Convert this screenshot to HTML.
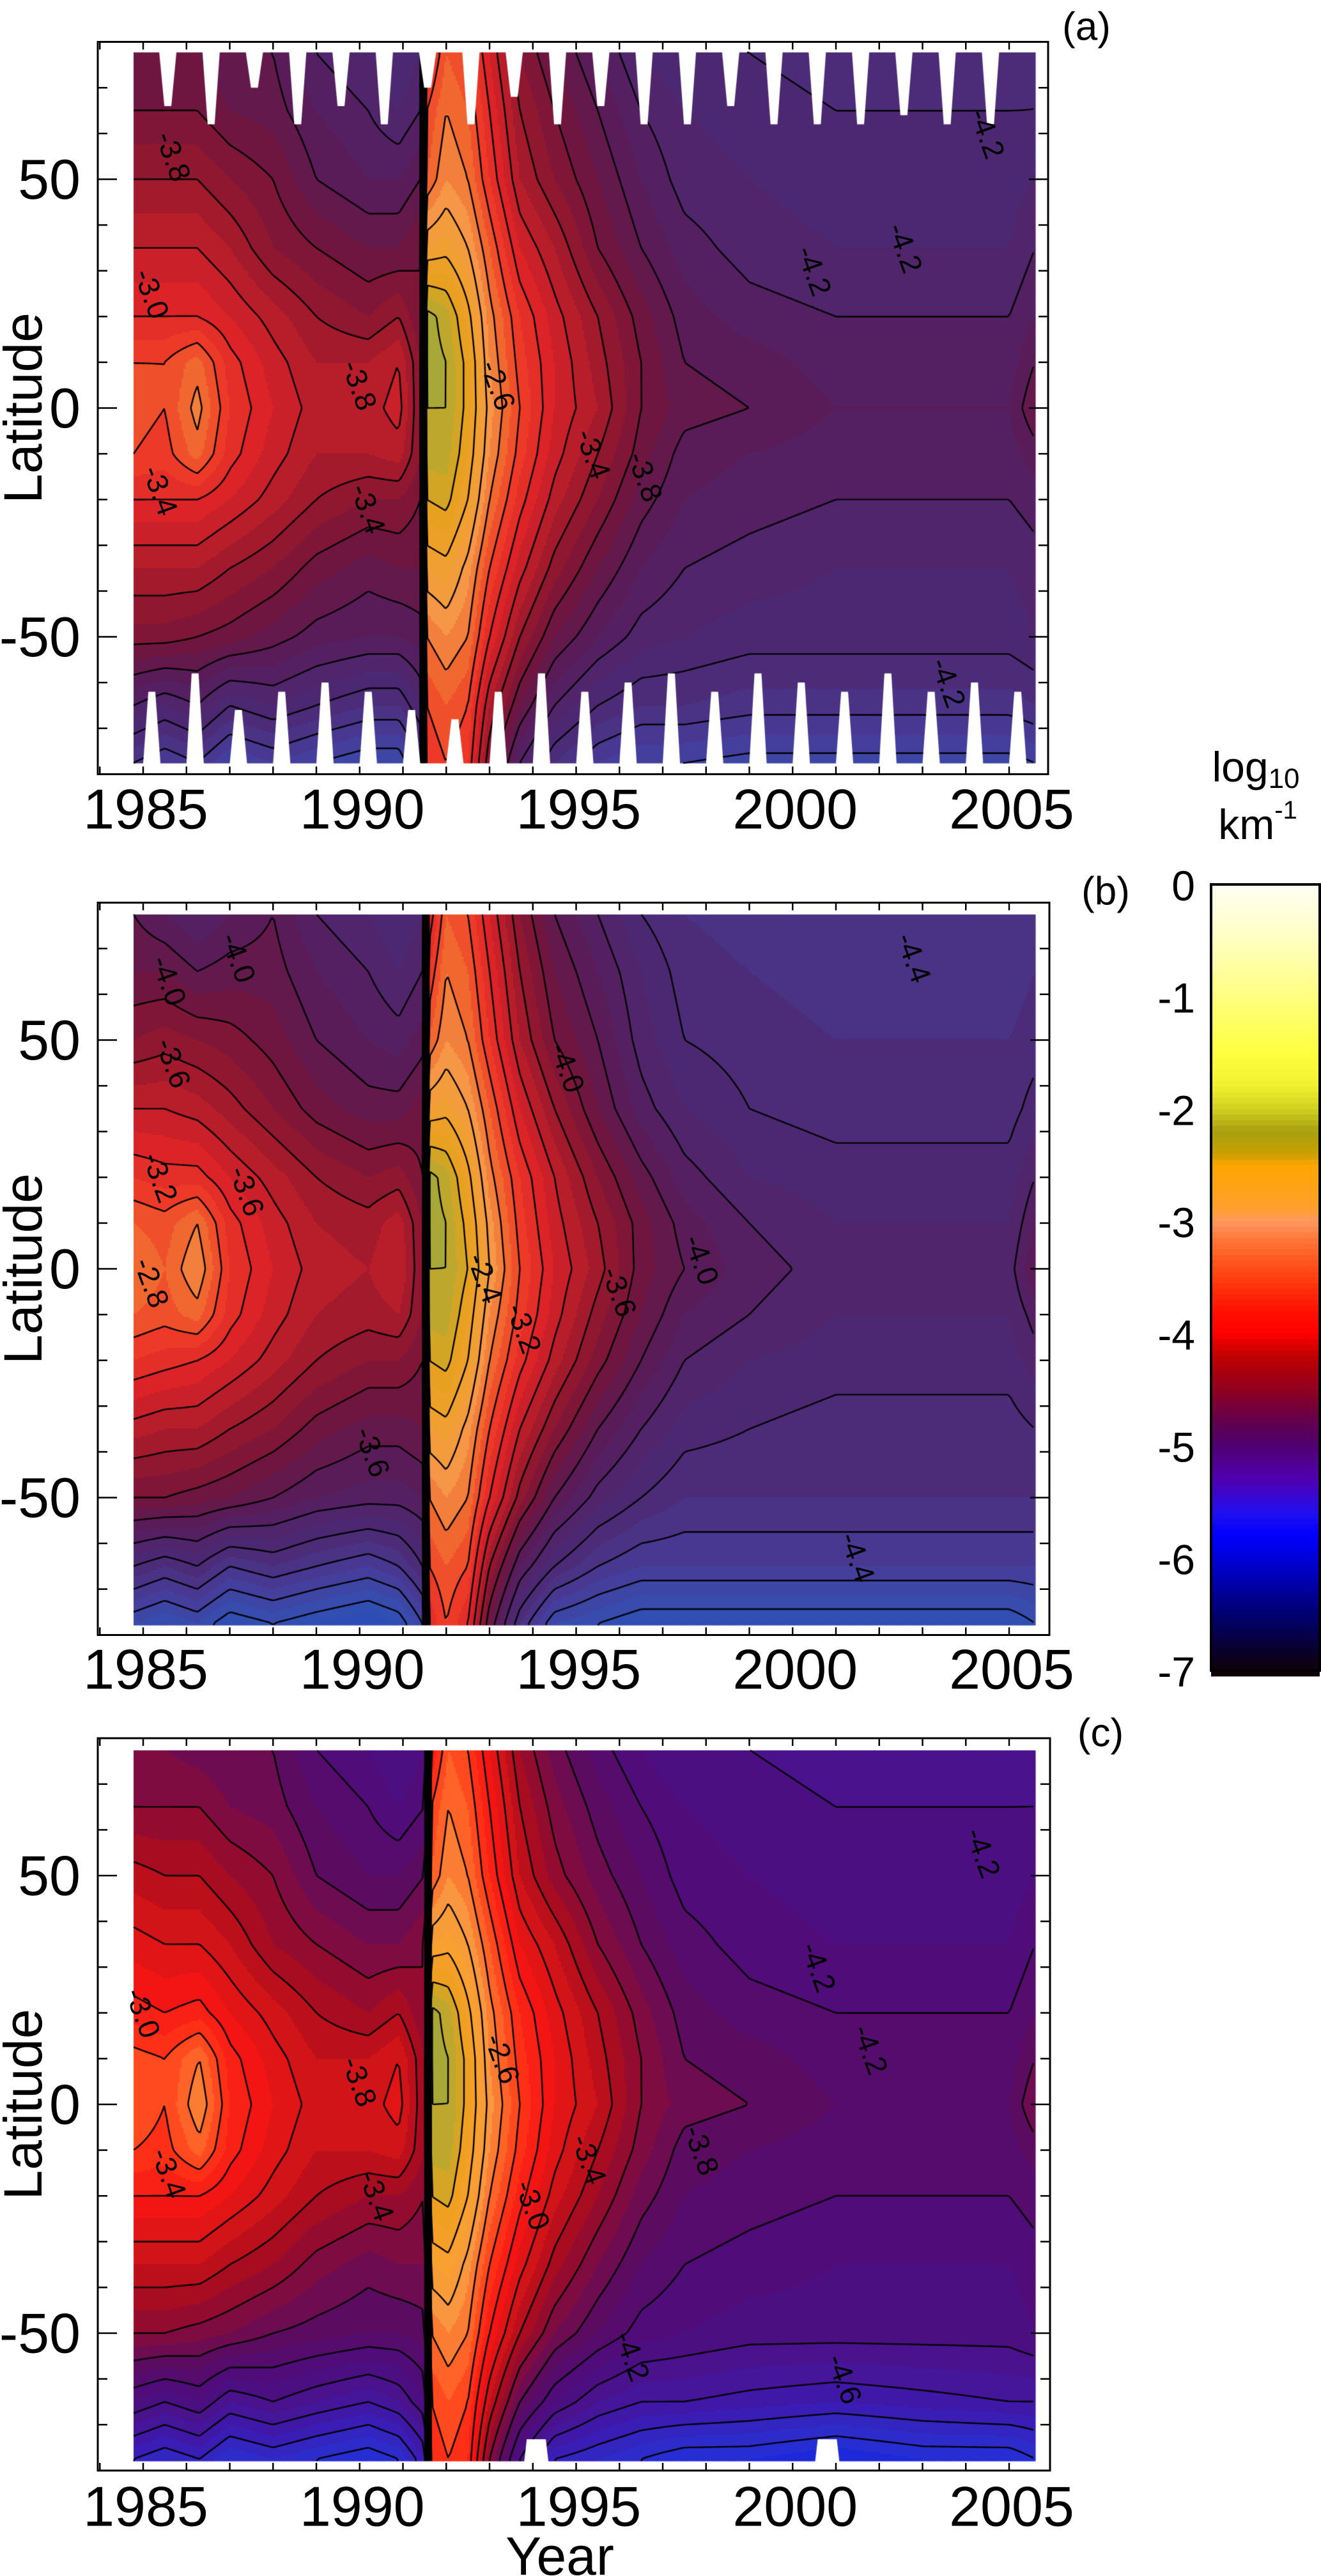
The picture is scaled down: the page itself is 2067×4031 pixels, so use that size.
<!DOCTYPE html>
<html><head><meta charset="utf-8">
<style>
html,body{margin:0;padding:0;background:#fff;}
#wrap{position:relative;width:2067px;height:4031px;overflow:hidden;background:#fff;}
canvas,svg{position:absolute;left:0;top:0;}
text{font-family:"Liberation Sans",sans-serif;fill:#000;}
</style></head>
<body>
<div id="wrap">
<canvas id="cv" width="2067" height="4031"></canvas>
<svg id="sv" width="2067" height="4031"></svg>
</div>
<script>
// ---------------- DATA ----------------
const lats = [77.5, 65, 50, 35, 20, 10, 0, -10, -20, -35, -50, -65, -77.5];
const yearsA = [1984.78,1985.5,1986.25,1987,1988,1989,1990.2,1990.9,1991.4,1991.55,1992.0,1992.5,1993,1993.7,1994.5,1995.5,1996.5,1997.5,1999,2001,2003,2005,2005.6];
const yearsB = [1984.78,1985.5,1986.25,1987,1988,1989,1990.2,1990.9,1991.45,1991.6,1992.0,1992.5,1993,1993.7,1994.5,1995.5,1996.5,1997.5,1999,2001,2003,2005,2005.6];
const yearsC = [1984.78,1985.5,1986.3,1987,1988,1989,1990.2,1990.9,1991.5,1991.65,1992.05,1992.5,1993,1993.7,1994.5,1995.5,1996.5,1997.5,1999,2001,2003,2005,2005.6];
const valuesA = [
[-3.9,-3.9,-3.9,-4.0,-4.0,-4.2,-4.3,-4.4,-4.3,-3.2,-2.9,-3.0,-3.3,-3.7,-3.9,-4.1,-4.3,-4.4,-4.4,-4.45,-4.45,-4.45,-4.4],
[-3.8,-3.8,-3.8,-3.9,-3.95,-4.1,-4.2,-4.3,-4.2,-3.0,-2.8,-2.9,-3.2,-3.6,-3.8,-4.0,-4.2,-4.3,-4.35,-4.4,-4.4,-4.4,-4.4],
[-3.6,-3.6,-3.6,-3.7,-3.8,-4.0,-4.1,-4.1,-4.0,-2.9,-2.7,-2.8,-3.1,-3.5,-3.7,-3.9,-4.1,-4.25,-4.3,-4.35,-4.35,-4.35,-4.3],
[-3.4,-3.4,-3.4,-3.5,-3.7,-3.8,-3.9,-3.9,-3.8,-2.5,-2.45,-2.6,-2.9,-3.3,-3.5,-3.8,-4.0,-4.15,-4.25,-4.3,-4.3,-4.3,-4.2],
[-3.2,-3.2,-3.2,-3.3,-3.45,-3.6,-3.7,-3.6,-3.8,-1.95,-2.05,-2.35,-2.75,-3.1,-3.35,-3.6,-3.85,-4.05,-4.15,-4.2,-4.2,-4.2,-4.1],
[-3.0,-3.0,-2.85,-3.15,-3.35,-3.5,-3.5,-3.4,-3.7,-1.95,-2.0,-2.25,-2.7,-3.05,-3.3,-3.55,-3.8,-4.0,-4.05,-4.15,-4.15,-4.15,-4.0],
[-2.95,-3.0,-2.75,-3.1,-3.3,-3.45,-3.45,-3.35,-3.7,-2.0,-2.0,-2.25,-2.65,-3.0,-3.3,-3.5,-3.8,-3.95,-4.0,-4.1,-4.1,-4.1,-3.9],
[-3.0,-3.05,-2.85,-3.15,-3.35,-3.5,-3.5,-3.45,-3.7,-2.05,-2.05,-2.3,-2.7,-3.05,-3.35,-3.6,-3.85,-4.05,-4.1,-4.15,-4.15,-4.15,-4.05],
[-3.2,-3.2,-3.2,-3.3,-3.45,-3.6,-3.7,-3.7,-3.8,-2.2,-2.15,-2.4,-2.8,-3.15,-3.45,-3.7,-3.95,-4.1,-4.15,-4.2,-4.2,-4.2,-4.15],
[-3.5,-3.5,-3.5,-3.6,-3.7,-3.85,-3.95,-3.9,-3.9,-2.5,-2.45,-2.65,-3.0,-3.35,-3.65,-3.9,-4.1,-4.2,-4.25,-4.3,-4.3,-4.3,-4.25],
[-3.75,-3.75,-3.8,-3.85,-3.95,-4.05,-4.1,-4.1,-4.05,-2.8,-2.7,-2.8,-3.2,-3.6,-3.9,-4.1,-4.25,-4.3,-4.35,-4.35,-4.35,-4.35,-4.3],
[-4.2,-4.3,-4.2,-4.4,-4.3,-4.4,-4.5,-4.5,-4.3,-3.0,-2.9,-3.0,-3.5,-3.9,-4.2,-4.4,-4.5,-4.5,-4.55,-4.55,-4.55,-4.55,-4.5],
[-4.6,-4.7,-4.6,-4.8,-4.7,-4.8,-4.9,-4.9,-4.6,-3.1,-3.0,-3.1,-3.7,-4.2,-4.5,-4.7,-4.8,-4.8,-4.85,-4.85,-4.85,-4.85,-4.8]];
const valuesB = [
[-4.0,-4.1,-4.2,-4.1,-4.0,-4.2,-4.3,-4.4,-4.3,-3.3,-2.9,-3.0,-3.3,-3.7,-4.0,-4.2,-4.4,-4.5,-4.55,-4.6,-4.6,-4.6,-4.55],
[-3.9,-3.9,-4.0,-3.95,-3.95,-4.1,-4.2,-4.3,-4.2,-3.1,-2.8,-2.9,-3.2,-3.6,-3.9,-4.1,-4.3,-4.45,-4.5,-4.55,-4.55,-4.55,-4.5],
[-3.7,-3.65,-3.7,-3.75,-3.85,-4.0,-4.1,-4.15,-4.05,-2.9,-2.7,-2.8,-3.1,-3.5,-3.8,-4.0,-4.25,-4.4,-4.45,-4.5,-4.5,-4.5,-4.45],
[-3.4,-3.4,-3.45,-3.55,-3.7,-3.85,-3.95,-3.95,-3.85,-2.5,-2.45,-2.6,-2.9,-3.3,-3.6,-3.9,-4.15,-4.3,-4.4,-4.45,-4.45,-4.45,-4.35],
[-3.1,-3.15,-3.15,-3.3,-3.45,-3.6,-3.7,-3.65,-3.8,-1.95,-2.05,-2.35,-2.75,-3.1,-3.4,-3.7,-3.95,-4.15,-4.3,-4.35,-4.35,-4.35,-4.2],
[-2.9,-2.95,-2.8,-3.15,-3.35,-3.5,-3.55,-3.45,-3.7,-1.95,-2.0,-2.25,-2.65,-3.05,-3.35,-3.6,-3.85,-4.05,-4.2,-4.3,-4.3,-4.3,-4.1],
[-2.8,-2.9,-2.7,-3.1,-3.3,-3.45,-3.5,-3.4,-3.7,-2.0,-2.0,-2.2,-2.6,-3.0,-3.3,-3.55,-3.85,-4.0,-4.15,-4.25,-4.25,-4.25,-4.0],
[-2.9,-2.95,-2.85,-3.15,-3.35,-3.5,-3.55,-3.5,-3.7,-2.05,-2.05,-2.3,-2.7,-3.05,-3.35,-3.65,-3.9,-4.1,-4.2,-4.3,-4.3,-4.3,-4.15],
[-3.1,-3.15,-3.2,-3.3,-3.45,-3.6,-3.7,-3.7,-3.8,-2.2,-2.15,-2.4,-2.8,-3.15,-3.45,-3.75,-4.0,-4.2,-4.3,-4.35,-4.35,-4.35,-4.25],
[-3.45,-3.5,-3.5,-3.6,-3.7,-3.85,-3.95,-3.95,-3.9,-2.5,-2.45,-2.65,-3.0,-3.4,-3.7,-4.0,-4.2,-4.35,-4.4,-4.45,-4.45,-4.45,-4.4],
[-3.8,-3.8,-3.85,-3.9,-4.0,-4.1,-4.15,-4.15,-4.1,-2.8,-2.7,-2.8,-3.2,-3.65,-4.0,-4.25,-4.4,-4.5,-4.5,-4.5,-4.5,-4.5,-4.5],
[-4.4,-4.5,-4.4,-4.6,-4.5,-4.6,-4.7,-4.6,-4.4,-3.0,-2.9,-3.0,-3.6,-4.1,-4.4,-4.6,-4.7,-4.7,-4.7,-4.7,-4.7,-4.7,-4.7],
[-4.9,-5.0,-4.9,-5.1,-5.0,-5.1,-5.2,-5.1,-4.8,-3.2,-3.0,-3.2,-3.9,-4.5,-4.9,-5.0,-5.1,-5.1,-5.1,-5.1,-5.1,-5.1,-5.0]];
const valuesC = [
[-3.9,-3.9,-3.95,-4.0,-4.0,-4.2,-4.3,-4.4,-4.3,-3.2,-2.9,-3.0,-3.3,-3.7,-3.95,-4.15,-4.3,-4.4,-4.4,-4.45,-4.45,-4.45,-4.4],
[-3.8,-3.8,-3.8,-3.9,-3.95,-4.1,-4.2,-4.3,-4.2,-3.0,-2.8,-2.9,-3.2,-3.6,-3.85,-4.05,-4.2,-4.3,-4.35,-4.4,-4.4,-4.4,-4.4],
[-3.55,-3.6,-3.6,-3.7,-3.8,-4.0,-4.1,-4.1,-4.0,-2.9,-2.7,-2.8,-3.1,-3.5,-3.75,-3.95,-4.1,-4.25,-4.3,-4.35,-4.35,-4.35,-4.3],
[-3.35,-3.4,-3.4,-3.5,-3.7,-3.8,-3.9,-3.9,-3.8,-2.5,-2.45,-2.6,-2.9,-3.3,-3.5,-3.8,-4.0,-4.15,-4.25,-4.3,-4.3,-4.3,-4.2],
[-3.15,-3.2,-3.15,-3.3,-3.45,-3.6,-3.7,-3.6,-3.8,-1.95,-2.05,-2.35,-2.75,-3.1,-3.35,-3.6,-3.85,-4.05,-4.15,-4.2,-4.2,-4.2,-4.1],
[-2.95,-3.0,-2.8,-3.15,-3.35,-3.5,-3.5,-3.4,-3.7,-1.95,-2.0,-2.25,-2.7,-3.05,-3.3,-3.55,-3.8,-4.0,-4.05,-4.15,-4.15,-4.15,-4.0],
[-2.9,-3.0,-2.7,-3.1,-3.3,-3.45,-3.45,-3.35,-3.7,-2.0,-2.0,-2.25,-2.65,-3.0,-3.3,-3.5,-3.8,-3.95,-4.0,-4.1,-4.1,-4.1,-3.9],
[-3.0,-3.05,-2.85,-3.15,-3.35,-3.5,-3.5,-3.45,-3.7,-2.05,-2.05,-2.3,-2.7,-3.05,-3.35,-3.6,-3.85,-4.05,-4.1,-4.15,-4.15,-4.15,-4.05],
[-3.2,-3.2,-3.2,-3.3,-3.45,-3.6,-3.7,-3.7,-3.8,-2.2,-2.15,-2.4,-2.8,-3.15,-3.45,-3.7,-3.95,-4.1,-4.15,-4.2,-4.2,-4.2,-4.15],
[-3.5,-3.5,-3.5,-3.6,-3.7,-3.85,-3.95,-3.9,-3.9,-2.5,-2.45,-2.65,-3.0,-3.35,-3.65,-3.9,-4.1,-4.2,-4.25,-4.3,-4.3,-4.3,-4.25],
[-3.8,-3.8,-3.85,-3.9,-4.0,-4.05,-4.1,-4.1,-4.05,-2.8,-2.7,-2.8,-3.2,-3.6,-3.9,-4.1,-4.25,-4.3,-4.35,-4.35,-4.35,-4.35,-4.3],
[-4.3,-4.4,-4.3,-4.5,-4.4,-4.5,-4.6,-4.5,-4.3,-3.0,-2.9,-3.0,-3.5,-4.0,-4.3,-4.5,-4.6,-4.6,-4.65,-4.7,-4.65,-4.6,-4.6],
[-4.8,-4.9,-4.8,-5.0,-4.9,-5.0,-5.1,-5.0,-4.7,-3.1,-3.0,-3.1,-3.8,-4.4,-4.8,-4.9,-5.0,-5.1,-5.1,-5.2,-5.1,-5.1,-5.0]];
// missing-data gaps (year centres, lat reached)
const gapTopYearsA = [1985.57,1986.57,1987.57,1988.57,1989.57,1990.57,1991.57,1992.57,1993.57,1994.57,1995.57,1996.57,1997.57,1998.57,1999.57,2000.57,2001.57,2002.57,2003.57,2004.57];
const gapTopLatA = [66,62,70,62,66,62,70,62,68,62,66,62,62,66,62,62,62,64,62,62];
const gapBotYearsA = [1985.2,1986.2,1987.2,1988.2,1989.2,1990.2,1991.2,1992.2,1993.2,1994.2,1995.2,1996.2,1997.2,1998.2,1999.2,2000.2,2001.2,2002.2,2003.2,2004.2,2005.2];
const gapBotLatA = [-62,-58,-66,-62,-60,-62,-66,-68,-62,-58,-62,-60,-58,-62,-58,-60,-62,-58,-62,-60,-62];
const gapBotYearsC = [1994.08,2000.8];
const gapBotLatC = [-73.2,-73.2];
const cbarValues = [0,-0.5,-1,-1.5,-1.8,-2.0,-2.2,-2.4,-2.5,-2.9,-3.0,-3.2,-3.5,-3.8,-4.0,-4.2,-4.5,-4.8,-5.0,-5.3,-5.6,-5.8,-6.2,-6.5,-7];
const cbarColors = ["#fffff4","#ffffc0","#ffff80","#ffff40","#f0f030","#d0d020","#a8a010","#c8a000","#ffa500","#ffa030","#ff9860","#ff7030","#ff4010","#ff1000","#ff0000","#c00000","#900020","#600050","#500070","#5000b0","#2010f0","#0000ff","#0000b0","#000070","#100008"];
const cbarTicks = [0,-1,-2,-3,-4,-5,-6,-7];
const yearTicks = [1985,1990,1995,2000,2005];
const latTicks = [50,0,-50];
const contourLevels = [-5.4,-5.2,-5.0,-4.8,-4.6,-4.4,-4.2,-4.0,-3.8,-3.6,-3.4,-3.2,-3.0,-2.8,-2.6,-2.4,-2.2,-2.0,-1.8];
// panel palettes (value -> displayed colour)
const palAVals = [-5.4,-5.0,-4.7,-4.45,-4.25,-4.05,-3.85,-3.65,-3.45,-3.25,-3.05,-2.85,-2.65,-2.45,-2.25,-2.1,-1.95,-1.8,-1.5];
const palACols = ["#2048c0","#3450b0","#483c98","#4c2c78","#50256c","#5a1c58","#701640","#901830","#b81e2a","#dc2428","#ee3a28","#f06830","#f59848","#f0a030","#e8a020","#c8a828","#a8a838","#c8c830","#f0f030"];
const palCVals = [-5.4,-5.0,-4.7,-4.45,-4.25,-4.05,-3.85,-3.65,-3.45,-3.25,-3.05,-2.85,-2.65,-2.45,-2.25,-2.1,-1.95,-1.8,-1.5];
const palCCols = ["#0a20e8","#2a30d0","#3e1ab0","#4a128c","#500c78","#5c0c60","#800c40","#a80c20","#d01418","#f41414","#ff3018","#ff6428","#f89840","#f8a030","#f0a020","#c8a828","#a8a838","#c8c830","#f0f030"];
const labelsA = [["-4.2",2000.5,30],["-4.2",2002.6,35],["-4.2",2004.5,60],["-3.8",1996.6,-15],["-3.4",1995.4,-10],["-2.6",1993.2,5],["-3.0",1985.2,25],["-3.4",1985.4,-18],["-3.8",1990.0,5],["-4.2",2003.6,-60],["-3.8",1985.7,55],["-3.4",1990.2,-22]];
const labelsB = [["-4.0",1985.6,63],["-4.0",1987.2,68],["-3.6",1985.7,45],["-3.2",1985.4,20],["-2.8",1985.2,-3],["-3.6",1987.4,17],["-3.6",1990.3,-40],["-2.4",1992.9,-2],["-3.2",1993.8,-13],["-3.6",1996.0,-5],["-4.0",1997.9,2],["-4.0",1994.8,44],["-4.4",2002.8,68],["-4.4",2001.5,-63]];
const labelsC = [["-3.0",1985.0,20],["-3.4",1985.6,-15],["-3.8",1990.0,5],["-3.4",1990.4,-20],["-2.6",1993.3,10],["-3.0",1994.0,-22],["-3.4",1995.3,-12],["-3.8",1997.9,-10],["-4.2",2000.6,30],["-4.2",2001.8,12],["-4.2",2004.4,55],["-4.6",2001.2,-60],["-4.2",1996.3,-55]];

// ---------------- LAYOUT ----------------
const X0 = 224, PXY = 67.75;
const PXL = 7.16;
const panels = [
  {id:'a', y0:638.5, years:yearsA, vals:valuesA, pv:palAVals, pc:palACols, top:77.7, bot:-77.6, erupt:1991.47, gT:gapTopYearsA, gTL:gapTopLatA, gB:gapBotYearsA, gBL:gapBotLatA, labels:labelsA, tag:'(a)', tagX:1700, tagY:42, yl:1266, right:1640},
  {id:'b', y0:1985.5, years:yearsB, vals:valuesB, pv:palAVals, pc:palACols, top:77.5, bot:-77.8, erupt:1991.53, gT:[], gTL:[], gB:[], gBL:[], labels:labelsB, tag:'(b)', tagX:1730, tagY:1395, yl:2612, right:1642},
  {id:'c', y0:3293, years:yearsC, vals:valuesC, pv:palCVals, pc:palCCols, top:77.4, bot:-77.9, erupt:1991.58, gT:[], gTL:[], gB:gapBotYearsC, gBL:gapBotLatC, labels:labelsC, tag:'(c)', tagX:1722, tagY:2712, yl:3922, right:1643}
];
const LEFT = 153, YMIN = 1984.78, YMAX = 2005.6;
function xOf(yr){ return X0 + (yr-1985)*PXY; }
function yOf(lat,p){ return p.y0 - lat*PXL; }
function yrOf(x){ return 1985 + (x-X0)/PXY; }
function latOf(y,p){ return (p.y0 - y)/PXL; }

function hex(c){ return [parseInt(c.substr(1,2),16),parseInt(c.substr(3,2),16),parseInt(c.substr(5,2),16)]; }
function palette(v, vals, cols){
  if (v<=vals[0]) return hex(cols[0]);
  if (v>=vals[vals.length-1]) return hex(cols[cols.length-1]);
  for (let i=0;i<vals.length-1;i++){
    if (v>=vals[i] && v<=vals[i+1]){
      const t=(v-vals[i])/(vals[i+1]-vals[i]); const a=hex(cols[i]), b=hex(cols[i+1]);
      return [a[0]+(b[0]-a[0])*t, a[1]+(b[1]-a[1])*t, a[2]+(b[2]-a[2])*t];
    }
  }
}
function cbarColor(v){
  for (let i=0;i<cbarValues.length-1;i++){
    if (v<=cbarValues[i] && v>=cbarValues[i+1]){
      const t=(cbarValues[i]-v)/(cbarValues[i]-cbarValues[i+1]); const a=hex(cbarColors[i]), b=hex(cbarColors[i+1]);
      return 'rgb('+Math.round(a[0]+(b[0]-a[0])*t)+','+Math.round(a[1]+(b[1]-a[1])*t)+','+Math.round(a[2]+(b[2]-a[2])*t)+')';
    }
  }
  return cbarColors[cbarColors.length-1];
}
function locate(arr, v, desc){
  const n=arr.length;
  for (let i=0;i<n-1;i++){
    const a=arr[i], b=arr[i+1];
    if (desc ? (v<=a && v>=b) : (v>=a && v<=b)) return [i,(v-a)/(b-a)];
  }
  if (desc) return v>arr[0]?[0,0]:[n-2,1];
  return v<arr[0]?[0,0]:[n-2,1];
}
function field(p, yr, lat){
  const [i,t]=locate(p.years, yr, false);
  const [j,s]=locate(lats, lat, true);
  const V=p.vals;
  const a=V[j][i], b=V[j][i+1], c=V[j+1][i], d=V[j+1][i+1];
  return (a*(1-t)+b*t)*(1-s) + (c*(1-t)+d*t)*s;
}

// ---------------- DRAW HEATMAPS ----------------
const cv=document.getElementById('cv'); const ctx=cv.getContext('2d');
panels.forEach(p=>{
  const xL=Math.round(xOf(YMIN)), xR=Math.round(xOf(YMAX));
  const yT=Math.round(yOf(p.top,p)), yB=Math.round(yOf(p.bot,p));
  const S=3;
  for (let x=xL; x<xR; x+=S){
    for (let y=yT; y<yB; y+=S){
      const v=field(p, yrOf(x+S/2), latOf(y+S/2,p));
      const q=Math.floor(v/0.1)*0.1+0.05;
      const c=palette(q, p.pv, p.pc);
      ctx.fillStyle='rgb('+(c[0]|0)+','+(c[1]|0)+','+(c[2]|0)+')';
      ctx.fillRect(x,y,Math.min(S,xR-x)+0.5,Math.min(S,yB-y)+0.5);
    }
  }
  const G=4; const nx=Math.floor((xR-xL)/G)+1, ny=Math.floor((yB-yT)/G)+1;
  const grid=[];
  for (let j=0;j<ny;j++){ const row=[]; for (let i=0;i<nx;i++){ row.push(field(p, yrOf(xL+i*G), latOf(yT+j*G,p))); } grid.push(row); }
  ctx.strokeStyle='#000'; ctx.lineWidth=2.4; ctx.beginPath();
  contourLevels.forEach(L=>{
    for (let j=0;j<ny-1;j++) for (let i=0;i<nx-1;i++){
      const a=grid[j][i], b=grid[j][i+1], c=grid[j+1][i+1], d=grid[j+1][i];
      const pts=[];
      const x0=xL+i*G, y0=yT+j*G;
      if ((a<L)!==(b<L)) pts.push([x0+G*(L-a)/(b-a), y0]);
      if ((b<L)!==(c<L)) pts.push([x0+G, y0+G*(L-b)/(c-b)]);
      if ((d<L)!==(c<L)) pts.push([x0+G*(L-d)/(c-d), y0+G]);
      if ((a<L)!==(d<L)) pts.push([x0, y0+G*(L-a)/(d-a)]);
      if (pts.length>=2){ ctx.moveTo(pts[0][0],pts[0][1]); ctx.lineTo(pts[1][0],pts[1][1]); }
      if (pts.length===4){ ctx.moveTo(pts[2][0],pts[2][1]); ctx.lineTo(pts[3][0],pts[3][1]); }
    }
  });
  ctx.stroke();
  ctx.fillStyle='#000';
  ctx.fillRect(xOf(p.erupt)-6, yT, 12, yB-yT);
  ctx.fillStyle='#fff';
  p.gT.forEach((g,k)=>{
    const d=yOf(p.gTL[k],p);
    ctx.beginPath(); ctx.moveTo(xOf(g-0.2),yT-1); ctx.lineTo(xOf(g+0.2),yT-1); ctx.lineTo(xOf(g+0.08),d); ctx.lineTo(xOf(g-0.08),d); ctx.closePath(); ctx.fill();
  });
  p.gB.forEach((g,k)=>{
    const d=yOf(p.gBL[k],p);
    const w = p.id==='c'?0.28:0.2, w2 = p.id==='c'?0.22:0.08;
    ctx.beginPath(); ctx.moveTo(xOf(g-w),yB+1); ctx.lineTo(xOf(g+w),yB+1); ctx.lineTo(xOf(g+w2),d); ctx.lineTo(xOf(g-w2),d); ctx.closePath(); ctx.fill();
  });
});

// ---------------- SVG AXES ----------------
const NS='http://www.w3.org/2000/svg'; const sv=document.getElementById('sv');
function mk(tag, attrs, parent){ const e=document.createElementNS(NS,tag); for (const k in attrs) e.setAttribute(k,attrs[k]); (parent||sv).appendChild(e); return e; }
panels.forEach(p=>{
  const g=mk('g',{});
  
  
  const top=p.y0-573, bot=p.y0+573;
  const box=mk('rect',{x:LEFT,y:top,width:p.right-LEFT,height:bot-top,fill:'none',stroke:'#000','stroke-width':3},g);
  
  
  for (let lat=-80; lat<=80; lat+=10){
    const y=yOf(lat,p); const len=(lat%50===0)?30:15;
    const t1=mk('line',{x1:LEFT,y1:y,x2:LEFT+len,y2:y,stroke:'#000','stroke-width':2.5},g);
    
    
    const t2=mk('line',{x1:p.right,y1:y,x2:p.right-len,y2:y,stroke:'#000','stroke-width':2.5},g);
    
    
  }
  latTicks.forEach(l=>{
    const t=mk('text',{x:126,y:yOf(l,p),'text-anchor':'end','dominant-baseline':'central','font-size':88},g);
    t.textContent=(l<0?'-':'')+Math.abs(l);
    
    
  });
  for (let yr=1984; yr<=2006; yr++){
    const x=xOf(yr); if (x<LEFT+2||x>p.right-2) continue;
    const a=mk('line',{x1:x,y1:bot,x2:x,y2:bot-12,stroke:'#000','stroke-width':2.5},g);
    
    
    const b=mk('line',{x1:x,y1:top,x2:x,y2:top+12,stroke:'#000','stroke-width':2.5},g);
    
    
  }
  yearTicks.forEach(yr=>{
    const t=mk('text',{x:xOf(yr)+4,y:p.yl,'text-anchor':'middle','dominant-baseline':'central','font-size':88},g);
    t.textContent=yr;
    
    
  });
  const yt=mk('text',{x:0,y:0,'text-anchor':'middle','dominant-baseline':'central','font-size':84,transform:'translate(36,'+p.y0+') rotate(-90)'},g);
  yt.textContent='Latitude';
  
  
  const tg=mk('text',{x:p.tagX,y:p.tagY,'text-anchor':'middle','dominant-baseline':'central','font-size':62},g);
  tg.textContent=p.tag;
  
  
  p.labels.forEach(L=>{
    const x=xOf(L[1]), y=yOf(L[2],p);
    const t=mk('text',{x:x,y:y,'text-anchor':'middle','dominant-baseline':'central','font-size':46,transform:'rotate(70 '+x+' '+y+')'},g);
    t.textContent=L[0];
    
    
  });
});
const xt=mk('text',{x:876,y:4000,'text-anchor':'middle','dominant-baseline':'central','font-size':84});
xt.textContent='Year';



// ---------------- COLORBAR ----------------
const CBX=1895, CBW=170, CBT=1384, CBB=2614;
function cbY(v){ return CBT + (0-v)/7*(CBB-CBT); }
const cb=mk('g',{});


for (let v=0; v>-7; v-=0.05){
  const r=mk('rect',{x:CBX,y:cbY(v),width:CBW,height:cbY(v-0.05)-cbY(v)+0.6,fill:cbarColor(v-0.025)},cb);
  
  
}
const cbf=mk('rect',{x:CBX,y:CBT,width:CBW,height:CBB-CBT,fill:'none',stroke:'#000','stroke-width':4},cb);


cbarTicks.forEach(v=>{
  const t=mk('text',{x:1870,y:cbY(v)+2,'text-anchor':'end','dominant-baseline':'central','font-size':66},cb);
  t.textContent=(v<0?'-':'')+Math.abs(v);
  
  
});
const u1=mk('text',{x:1965,y:1200,'text-anchor':'middle','dominant-baseline':'central','font-size':66},cb);
u1.innerHTML='log<tspan font-size="44" dy="18">10</tspan>';


const u2=mk('text',{x:1968,y:1290,'text-anchor':'middle','dominant-baseline':'central','font-size':66},cb);
u2.innerHTML='km<tspan font-size="40" dy="-22">-1</tspan>';


</script>
</body></html>
